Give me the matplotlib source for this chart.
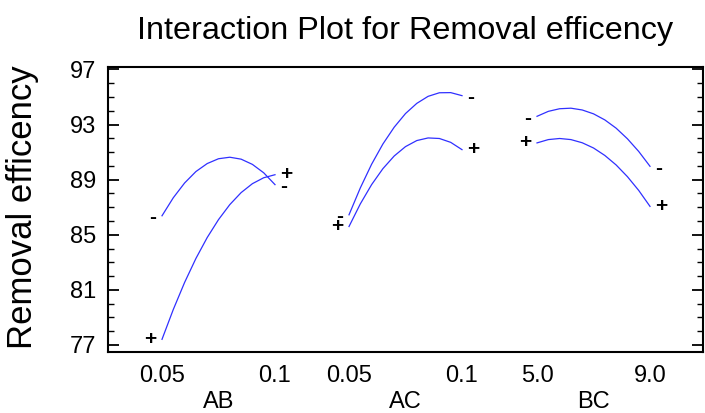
import matplotlib
matplotlib.use("Agg")
import matplotlib.pyplot as plt
from matplotlib.ticker import MultipleLocator, FixedLocator

plt.rcParams['font.family'] = ['Liberation Sans', 'DejaVu Sans']

# ---------------- data ----------------
factors = ["AB", "AC", "BC"]
level_labels = [["0.05", "0.1"], ["0.05", "0.1"], ["5.0", "9.0"]]

ab_levels = [0.05, 0.055, 0.06, 0.065, 0.07, 0.075, 0.08, 0.085, 0.09, 0.095, 0.1]
ac_levels = [0.05, 0.055, 0.06, 0.065, 0.07, 0.075, 0.08, 0.085, 0.09, 0.095, 0.1]
bc_levels = [5.0, 5.4, 5.8, 6.2, 6.6, 7.0, 7.4, 7.8, 8.2, 8.6, 9.0]

ab_minus = [86.38, 87.69, 88.76, 89.59, 90.17, 90.52, 90.63, 90.49, 90.11, 89.50, 88.64]
ab_plus = [77.41, 79.58, 81.54, 83.28, 84.80, 86.10, 87.19, 88.06, 88.71, 89.14, 89.36]
ac_minus = [86.45, 88.40, 90.12, 91.59, 92.81, 93.80, 94.54, 95.05, 95.31, 95.32, 95.10]
ac_plus = [85.60, 87.24, 88.64, 89.80, 90.72, 91.40, 91.84, 92.03, 91.99, 91.71, 91.18]
bc_minus = [93.60, 93.96, 94.15, 94.19, 94.06, 93.78, 93.34, 92.74, 91.97, 91.05, 89.97]
bc_plus = [91.67, 91.91, 91.99, 91.91, 91.68, 91.30, 90.76, 90.07, 89.22, 88.22, 87.06]

yticks = [77, 81, 85, 89, 93, 97]

panels = [
    (ab_levels, ab_minus, ab_plus),
    (ac_levels, ac_minus, ac_plus),
    (bc_levels, bc_minus, bc_plus),
]

# ---------------- layout ----------------
panel_offsets = [0.0, 1.655, 3.319]

fig = plt.figure(figsize=(7.05, 4.13), dpi=100)
ax = fig.add_axes([108 / 705, 1 - 352 / 413, (703 - 108) / 705, (352 - 67) / 413])

line_kw = dict(color="#3030ff", lw=0.9)
mark_kw = dict(textcoords="offset points", va="center", fontsize=15,
               fontweight="bold", color="black")
sym_dy = {"-": -1.5, "+": 0.0}

tick_pos = []
tick_lab = []
for (levels, minus, plus), off, labs, name in zip(panels, panel_offsets, level_labels, factors):
    lo, hi = levels[0], levels[-1]
    xs = [off + (v - lo) / (hi - lo) for v in levels]
    for series, sym in ((minus, "-"), (plus, "+")):
        ax.plot(xs, series, **line_kw)
        dy = sym_dy[sym]
        ax.annotate(sym, (xs[0], series[0]), xytext=(-4, dy), ha="right", **mark_kw)
        ax.annotate(sym, (xs[-1], series[-1]), xytext=(3.5, dy), ha="left", **mark_kw)
    tick_pos += [xs[0], xs[-1]]
    tick_lab += labs
    ax.text((xs[0] + xs[-1]) / 2, -0.197, name, transform=ax.get_xaxis_transform(),
            ha="center", va="baseline", fontsize=17)

ax.set_xlim(-0.478, 4.788)
ax.set_ylim(76.49, 97.18)

ax.set_xticks(tick_pos)
ax.set_xticklabels(tick_lab, fontsize=17)
ax.tick_params(axis="x", length=0, pad=9.5)

ax.yaxis.set_major_locator(FixedLocator(yticks))
ax.yaxis.set_minor_locator(MultipleLocator(1))
ax.tick_params(axis="y", which="both", direction="in", left=True, right=True,
               labelsize=17, pad=8.5)
ax.tick_params(axis="y", which="major", length=8, width=1.3)
ax.tick_params(axis="y", which="minor", length=4.3, width=1.0)

for sp in ax.spines.values():
    sp.set_linewidth(1.5)

fig.text(405 / 705, 1 - 39 / 413, "Interaction Plot for Removal efficency",
         ha="center", va="baseline", fontsize=23.3)
fig.text(32 / 705, 1 - 207.5 / 413, "Removal efficency", rotation=90,
         rotation_mode="anchor", ha="center", va="baseline", fontsize=25)

fig.savefig("out.png", dpi=100)
